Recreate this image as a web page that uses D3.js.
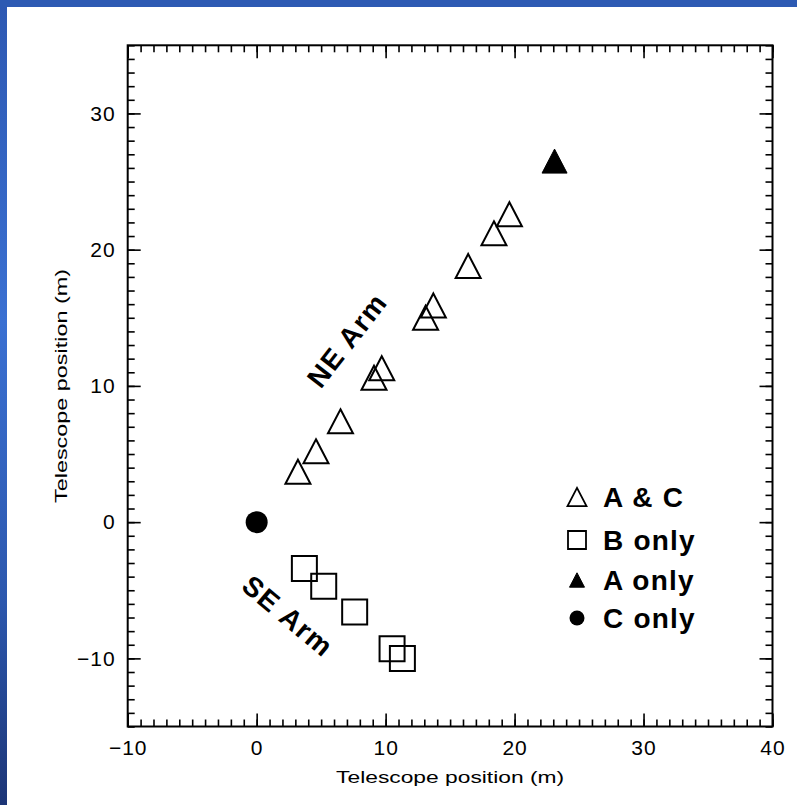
<!DOCTYPE html>
<html>
<head>
<meta charset="utf-8">
<script src="https://cdn.jsdelivr.net/npm/d3@7"></script>
<style>
  html, body { margin: 0; padding: 0; background: #fff; }
  svg { display: block; }
</style>
</head>
<body>
<script>
// ---- data ----
const acX = [3.2, 4.6, 6.5, 9.1, 9.7, 13.1, 13.7, 16.4, 18.4, 19.6];
const acY = [3.7, 5.2, 7.4, 10.6, 11.3, 15.0, 15.9, 18.8, 21.2, 22.6];
const bX = [3.7, 5.2, 7.6, 10.5, 11.3];
const bY = [-3.4, -4.7, -6.6, -9.3, -10.0];
const aOnlyX = [23.1];
const aOnlyY = [26.5];
const cOnlyX = [0];
const cOnlyY = [0];
const xMajorTicks = [-10, 0, 10, 20, 30, 40];
const yMajorTicks = [-10, 0, 10, 20, 30];
const legendLabels = ["A & C", "B only", "A only", "C only"];
const armLabels = ["NE Arm", "SE Arm"];
const axisTitle = "Telescope position (m)";

const W = 797, H = 805;
const L = 127.7, R = 772.5, T = 45.3, B = 726.5;

const svg = d3.select("body").append("svg").attr("width", W).attr("height", H);
const defs = svg.append("defs");
const g1 = defs.append("linearGradient").attr("id", "leftGrad")
  .attr("x1", 0).attr("y1", 0).attr("x2", 0).attr("y2", 1);
g1.append("stop").attr("offset", "0%").attr("stop-color", "#2d58b2");
g1.append("stop").attr("offset", "40%").attr("stop-color", "#3a70d2");
g1.append("stop").attr("offset", "75%").attr("stop-color", "#2c57ad");
g1.append("stop").attr("offset", "100%").attr("stop-color", "#1c3576");

svg.append("rect").attr("x", 0).attr("y", 0).attr("width", W).attr("height", H).attr("fill", "#fff");
svg.append("rect").attr("x", 0).attr("y", 0).attr("width", 7).attr("height", H).attr("fill", "url(#leftGrad)");
svg.append("rect").attr("x", 0).attr("y", 0).attr("width", W).attr("height", 7).attr("fill", "#2d5ab3");

const x = d3.scaleLinear().domain([-10, 40]).range([L, R]);
const y = d3.scaleLinear().domain([-15, 35]).range([B, T]);

const minorX = d3.range(-10, 41, 1);
const minorY = d3.range(-15, 36, 1);
const tickFont = "'Liberation Sans', Arial, sans-serif";

function styleAxis(sel) {
  sel.attr("font-size", null).attr("font-family", null);
  sel.select(".domain").remove();
  sel.selectAll("line").attr("stroke", "#000").attr("stroke-width", 1.6);
  sel.selectAll("text")
    .style("font-family", tickFont).style("font-size", "21px")
    .style("letter-spacing", "1px").attr("fill", "#000");
}

// bottom
svg.append("g").attr("transform", `translate(0,${B})`)
  .call(d3.axisBottom(x).tickValues(minorX).tickSize(-7).tickFormat(""))
  .call(styleAxis);
svg.append("g").attr("transform", `translate(0,${B})`)
  .call(d3.axisBottom(x).tickValues(xMajorTicks).tickSize(-13).tickPadding(14).tickFormat(d => d < 0 ? "\u2212" + Math.abs(d) : d))
  .call(styleAxis);
// top
svg.append("g").attr("transform", `translate(0,${T})`)
  .call(d3.axisTop(x).tickValues(minorX).tickSize(-7).tickFormat(""))
  .call(styleAxis);
svg.append("g").attr("transform", `translate(0,${T})`)
  .call(d3.axisTop(x).tickValues(xMajorTicks).tickSize(-13).tickFormat(""))
  .call(styleAxis);
// left
svg.append("g").attr("transform", `translate(${L},0)`)
  .call(d3.axisLeft(y).tickValues(minorY).tickSize(-7).tickFormat(""))
  .call(styleAxis);
svg.append("g").attr("transform", `translate(${L},0)`)
  .call(d3.axisLeft(y).tickValues(yMajorTicks).tickSize(-13).tickPadding(12).tickFormat(d => d < 0 ? "\u2212" + Math.abs(d) : d))
  .call(styleAxis);
// right
svg.append("g").attr("transform", `translate(${R},0)`)
  .call(d3.axisRight(y).tickValues(minorY).tickSize(-7).tickFormat(""))
  .call(styleAxis);
svg.append("g").attr("transform", `translate(${R},0)`)
  .call(d3.axisRight(y).tickValues(yMajorTicks).tickSize(-13).tickFormat(""))
  .call(styleAxis);

// frame
svg.append("rect").attr("x", L).attr("y", T).attr("width", R - L).attr("height", B - T)
  .attr("fill", "none").attr("stroke", "#000").attr("stroke-width", 2);

// axis titles
svg.append("text").attr("x", (L + R) / 2).attr("y", 783)
  .attr("text-anchor", "middle").attr("font-family", tickFont).attr("font-size", 17)
  .attr("textLength", 228).attr("lengthAdjust", "spacingAndGlyphs")
  .text(axisTitle);
svg.append("text").attr("transform", "translate(67,386) rotate(-90)")
  .attr("text-anchor", "middle").attr("font-family", tickFont).attr("font-size", 17)
  .attr("textLength", 234).attr("lengthAdjust", "spacingAndGlyphs")
  .text(axisTitle);

// symbol types
const triType = {
  draw(ctx, size) {
    const w = Math.sqrt(size); const hw = w / 2, hh = w * 0.48;
    ctx.moveTo(0, -hh); ctx.lineTo(hw, hh); ctx.lineTo(-hw, hh); ctx.closePath();
  }
};
const sqType = d3.symbolSquare;

const plot = svg.append("g");
const triSym = d3.symbol().type(triType).size(25 * 25);
const sqSym = d3.symbol().type(sqType).size(25 * 25);
const circSym = d3.symbol().type(d3.symbolCircle).size(Math.PI * 11 * 11);

plot.selectAll(".ac").data(acX.map((v, i) => [v, acY[i]])).join("path")
  .attr("transform", d => `translate(${x(d[0])},${y(d[1])})`)
  .attr("d", triSym).attr("fill", "none").attr("stroke", "#000").attr("stroke-width", 2);
plot.selectAll(".b").data(bX.map((v, i) => [v, bY[i]])).join("path")
  .attr("class", "b")
  .attr("transform", d => `translate(${x(d[0])},${y(d[1])})`)
  .attr("d", sqSym).attr("fill", "none").attr("stroke", "#000").attr("stroke-width", 2);
plot.selectAll(".a").data(aOnlyX.map((v, i) => [v, aOnlyY[i]])).join("path")
  .attr("class", "a")
  .attr("transform", d => `translate(${x(d[0])},${y(d[1])})`)
  .attr("d", triSym).attr("fill", "#000").attr("stroke", "#000").attr("stroke-width", 1);
plot.selectAll(".c").data(cOnlyX.map((v, i) => [v, cOnlyY[i]])).join("path")
  .attr("class", "c")
  .attr("transform", d => `translate(${x(d[0])},${y(d[1])})`)
  .attr("d", circSym).attr("fill", "#000");

// arm labels
const armFont = "'Liberation Sans', Arial, sans-serif";
svg.append("text").attr("transform", "translate(347,340) rotate(-52)")
  .attr("text-anchor", "middle").attr("dy", "0.35em")
  .attr("font-family", armFont).attr("font-weight", "bold").attr("font-size", 28)
  .attr("letter-spacing", 1.5).text(armLabels[0]);
svg.append("text").attr("transform", "translate(288,616) rotate(40)")
  .attr("text-anchor", "middle").attr("dy", "0.35em")
  .attr("font-family", armFont).attr("font-weight", "bold").attr("font-size", 28)
  .attr("letter-spacing", 1.5).text(armLabels[1]);

// legend
const legY = [497, 540, 580, 618];
const legX = 577;
const leg = svg.append("g");
const legSyms = [
  { sym: d3.symbol().type(triType).size(19 * 19), fill: "none", sw: 1.8 },
  { sym: d3.symbol().type(sqType).size(18 * 18), fill: "none", sw: 1.8 },
  { sym: d3.symbol().type(triType).size(15 * 15), fill: "#000", sw: 1 },
  { sym: d3.symbol().type(d3.symbolCircle).size(Math.PI * 7.5 * 7.5), fill: "#000", sw: 0 }
];
legendLabels.forEach((lab, i) => {
  const s = legSyms[i];
  leg.append("path").attr("transform", `translate(${legX},${legY[i]})`)
    .attr("d", s.sym).attr("fill", s.fill).attr("stroke", s.sw ? "#000" : "none").attr("stroke-width", s.sw);
  leg.append("text").attr("x", 603).attr("y", legY[i]).attr("dy", "0.36em")
    .attr("font-family", armFont).attr("font-weight", "bold").attr("font-size", 28)
    .attr("letter-spacing", 1.2).text(lab);
});
</script>
</body>
</html>
